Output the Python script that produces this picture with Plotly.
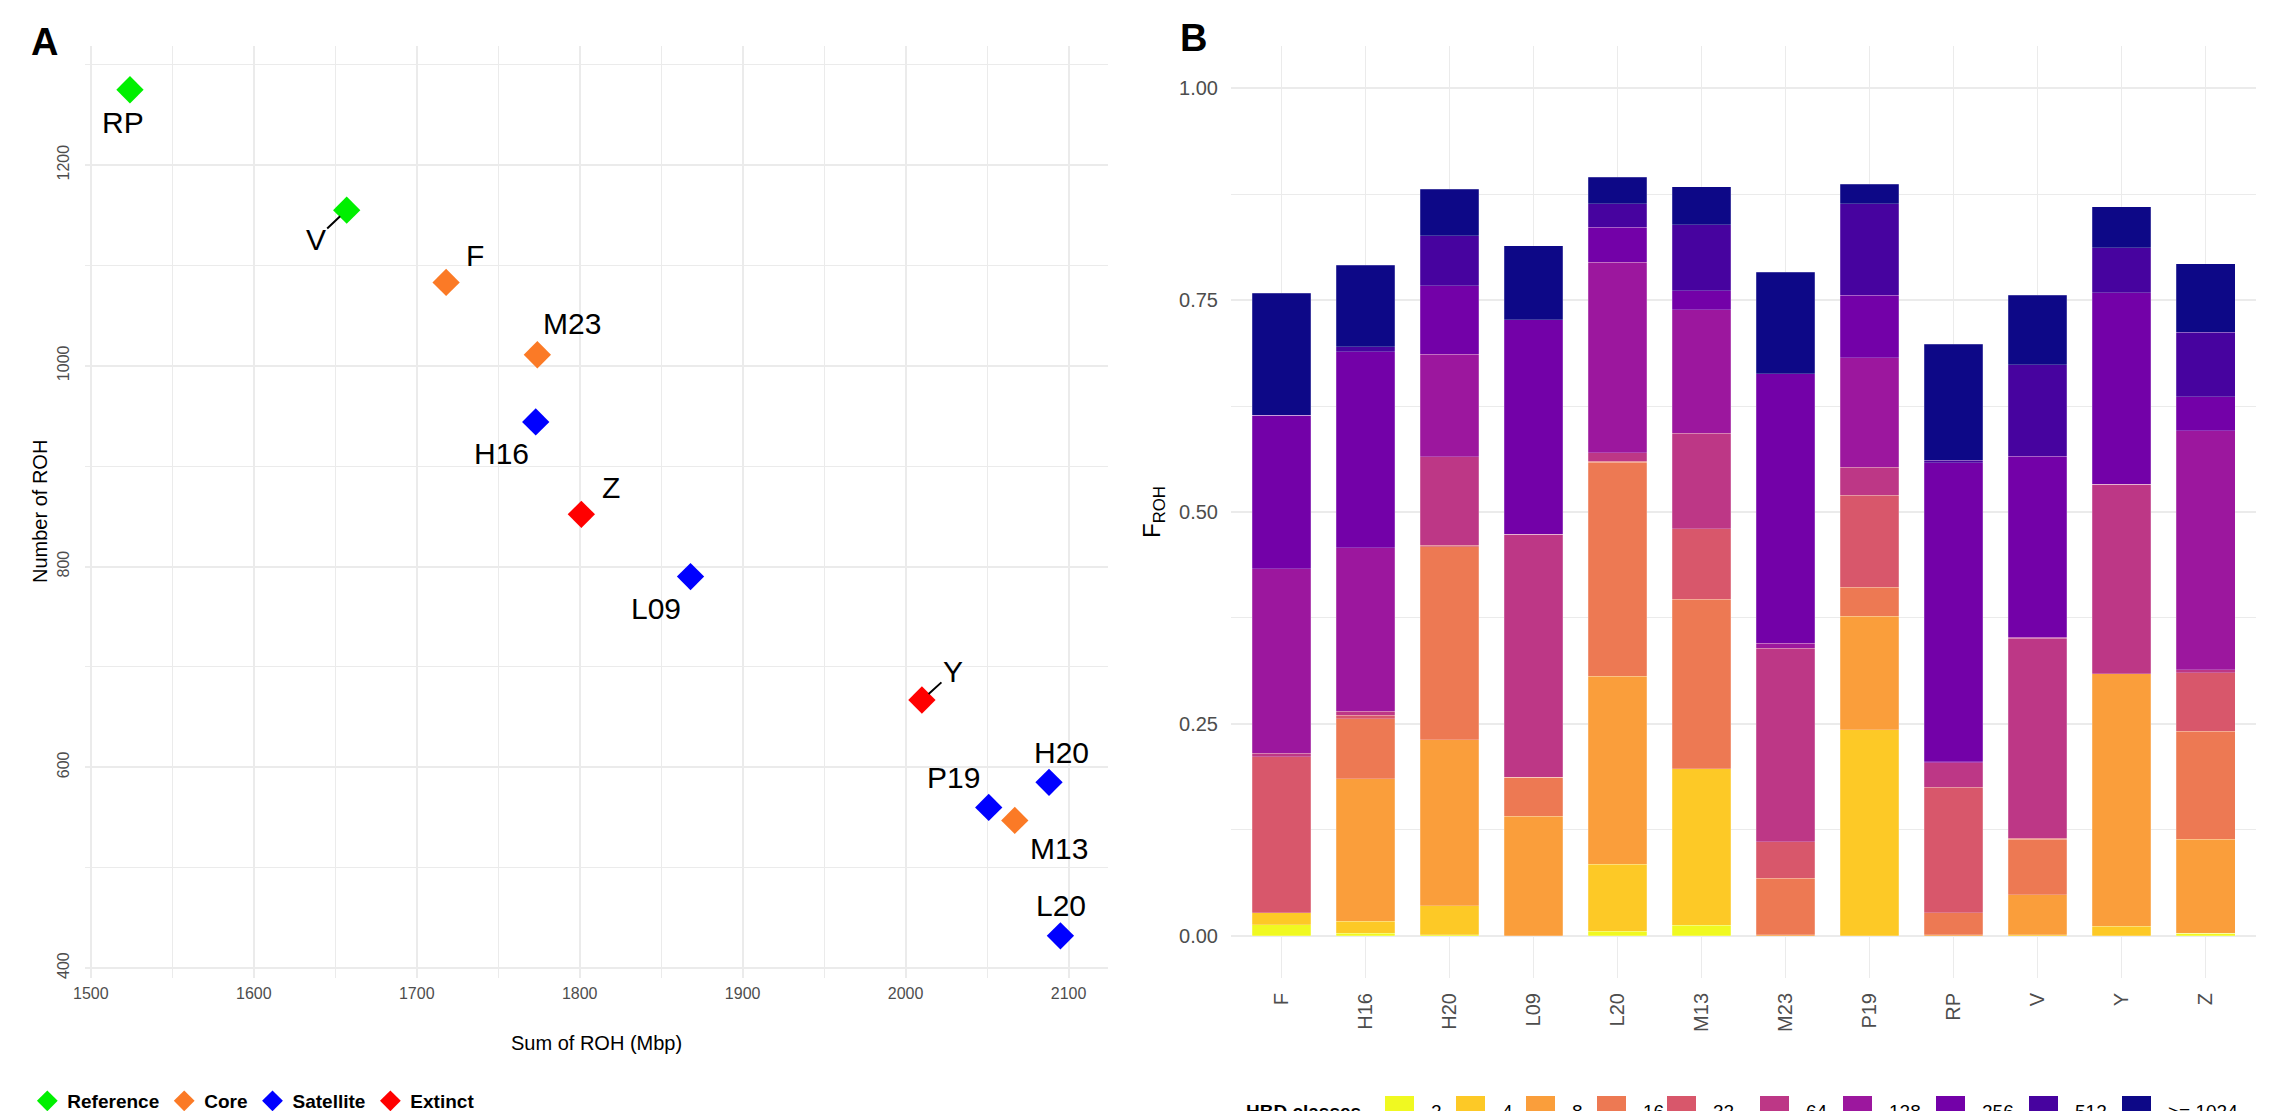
import plotly.graph_objects as go

# ---------------- Panel A data ----------------
ind_names = ["RP", "V", "F", "M23", "H16", "Z", "L09", "Y", "H20", "P19", "M13", "L20"]
sum_roh = [1524, 1657, 1718, 1774, 1773, 1801, 1868, 2010, 2088, 2051, 2067, 2095]
n_roh = [1275, 1155, 1083, 1011, 944, 852, 790, 667, 585, 560, 547, 432]
groups = ["Reference", "Reference", "Core", "Core", "Satellite", "Extinct", "Satellite",
          "Extinct", "Satellite", "Satellite", "Core", "Satellite"]
group_order = ["Reference", "Core", "Satellite", "Extinct"]
group_colors = {"Reference": "#00F000", "Core": "#FB7A26", "Satellite": "#0000FF", "Extinct": "#FF0000"}

# label offsets in pixels (dx right, dy down)
label_dx = [-7, -31, 29, 35, -34, 30, -35, 31, 12, -35, 44, 1]
label_dy = [33, 29, -27, -31, 32, -27, 32, -28, -30, -30, 28, -30]
with_segment = ["V", "Y"]

# ---------------- Panel B data ----------------
individuals = ["F", "H16", "H20", "L09", "L20", "M13", "M23", "P19", "RP", "V", "Y", "Z"]
hbd_classes = ["2", "4", "8", "16", "32", "64", "128", "256", "512", ">= 1024"]
hbd_2 = [0.013, 0.003, 0.001, 0, 0.005, 0.012, 0, 0, 0, 0, 0, 0.003]
hbd_4 = [0.014, 0.014, 0.034, 0, 0.079, 0.185, 0, 0.243, 0, 0.001, 0.011, 0]
hbd_8 = [0, 0.168, 0.196, 0.141, 0.222, 0, 0.001, 0.134, 0.001, 0.047, 0.298, 0.111]
hbd_16 = [0, 0.071, 0.228, 0.046, 0.253, 0.200, 0.067, 0.034, 0.026, 0.066, 0, 0.127]
hbd_32 = [0.184, 0.004, 0.002, 0, 0.001, 0.083, 0.043, 0.109, 0.148, 0.001, 0, 0.069]
hbd_64 = [0.004, 0.005, 0.104, 0.287, 0.010, 0.113, 0.228, 0.033, 0.029, 0.236, 0.224, 0.004]
hbd_128 = [0.218, 0.193, 0.121, 0, 0.225, 0.146, 0.006, 0.129, 0.001, 0.001, 0, 0.282]
hbd_256 = [0.181, 0.231, 0.081, 0.253, 0.041, 0.022, 0.318, 0.074, 0.353, 0.214, 0.226, 0.040]
hbd_512 = [0, 0.006, 0.059, 0, 0.028, 0.078, 0, 0.108, 0.003, 0.108, 0.053, 0.076]
hbd_1024 = [0.144, 0.096, 0.055, 0.087, 0.031, 0.045, 0.120, 0.023, 0.137, 0.082, 0.048, 0.081]
hbd_values = [hbd_2, hbd_4, hbd_8, hbd_16, hbd_32, hbd_64, hbd_128, hbd_256, hbd_512, hbd_1024]
hbd_colors = ["#F0F921", "#FDC926", "#FA9E3B", "#ED7953", "#D8576B",
              "#BD3786", "#9C179E", "#7301A8", "#47039F", "#0D0887"]

FONT = "Liberation Sans, Arial, sans-serif"
W, H = 2276, 1111
GRID = "#EBEBEB"

fig = go.Figure()

# scatter traces per group
for g in group_order:
    idx = [i for i, gg in enumerate(groups) if gg == g]
    fig.add_trace(go.Scatter(
        x=[sum_roh[i] for i in idx], y=[n_roh[i] for i in idx],
        mode="markers", name=g, legend="legend",
        marker=dict(symbol="diamond", size=21, color=group_colors[g], line=dict(width=0)),
        xaxis="x", yaxis="y"))

# labels
for i, nm in enumerate(ind_names):
    if nm in with_segment:
        fig.add_annotation(x=sum_roh[i], y=n_roh[i], xref="x", yref="y", text=nm,
                           showarrow=True, arrowhead=0, arrowwidth=2, arrowcolor="black",
                           ax=label_dx[i], ay=label_dy[i], standoff=9,
                           font=dict(family=FONT, size=30, color="black"))
    else:
        fig.add_annotation(x=sum_roh[i], y=n_roh[i], xref="x", yref="y", text=nm,
                           showarrow=False, xshift=label_dx[i], yshift=-label_dy[i],
                           xanchor="center", yanchor="middle",
                           font=dict(family=FONT, size=30, color="black"))

# stacked bars
for cls, vals, col in zip(hbd_classes, hbd_values, hbd_colors):
    fig.add_trace(go.Bar(
        x=individuals, y=vals, name=cls, showlegend=False,
        marker=dict(color=col, line=dict(color="rgba(255,255,255,0.35)", width=0.6)),
        xaxis="x2", yaxis="y2"))

# domains (paper fractions)
ax_l, ax_r = 85 / W, 1108 / W
bx_l, bx_r = 1231 / W, 2256 / W
y_b, y_t = 1 - 978 / H, 1 - 46 / H

tickfontA = dict(family=FONT, size=16, color="#4D4D4D")
tickfontB = dict(family=FONT, size=20, color="#4D4D4D")

fig.update_layout(
    width=W, height=H,
    margin=dict(l=0, r=0, t=0, b=0, autoexpand=False),
    paper_bgcolor="white", plot_bgcolor="white",
    barmode="stack", bargap=0.3,
    showlegend=True,
    xaxis=dict(domain=[ax_l, ax_r], range=[1496.4, 2124.2], dtick=100, tick0=1500,
               showgrid=True, gridcolor=GRID, gridwidth=2, zeroline=False, showline=False,
               ticks="", tickfont=tickfontA, ticklabelstandoff=4,
               minor=dict(dtick=50, tick0=1500, showgrid=True, gridcolor=GRID, gridwidth=1),
               anchor="y"),
    yaxis=dict(domain=[y_b, y_t], range=[390, 1318.6], dtick=200, tick0=400,
               showgrid=True, gridcolor=GRID, gridwidth=2, zeroline=False, showline=False,
               ticks="", tickfont=tickfontA, tickangle=-90, ticklabelstandoff=12,
               minor=dict(dtick=100, tick0=400, showgrid=True, gridcolor=GRID, gridwidth=1),
               anchor="x"),
    xaxis2=dict(domain=[bx_l, bx_r], range=[-0.6, 11.6], type="category",
                categoryorder="array", categoryarray=individuals,
                showgrid=True, gridcolor=GRID, gridwidth=1.3, zeroline=False, showline=False,
                ticks="", tickfont=tickfontB, tickangle=-90, ticklabelstandoff=10,
                anchor="y2"),
    yaxis2=dict(domain=[y_b, y_t], range=[-0.05, 1.05], dtick=0.25, tick0=0, tickformat=".2f",
                showgrid=True, gridcolor=GRID, gridwidth=2, zeroline=False, showline=False,
                ticks="", tickfont=tickfontB, ticklabelstandoff=12,
                minor=dict(dtick=0.125, tick0=0, showgrid=True, gridcolor=GRID, gridwidth=1),
                anchor="x2"),
    legend=dict(orientation="h", x=0.012, y=1 - 1101 / H, xanchor="left", yanchor="middle",
                font=dict(family=FONT, size=19, color="black", weight="bold"),
                itemsizing="trace", bgcolor="rgba(0,0,0,0)", traceorder="normal"),
)

# manual legend for HBD classes (bottom right, partly cut like the reference)
key_left = [1385, 1456, 1526, 1597, 1667, 1760, 1843, 1936, 2029, 2122]
key_size = 29
key_top = 1096
fig.add_annotation(text="<b>HBD classes</b>", x=1244 / W, y=1 - 1111 / H,
                   xref="paper", yref="paper", xanchor="left", yanchor="middle",
                   showarrow=False, font=dict(family=FONT, size=19, color="black"))
for cls, col, xl in zip(hbd_classes, hbd_colors, key_left):
    fig.add_shape(type="rect", xref="paper", yref="paper",
                  x0=xl / W, x1=(xl + key_size) / W,
                  y0=1 - key_top / H, y1=1 - (key_top + key_size) / H,
                  fillcolor=col, line=dict(width=0))
    fig.add_annotation(text=cls, x=(xl + key_size + 15) / W, y=1 - 1111 / H,
                       xref="paper", yref="paper", xanchor="left", yanchor="middle",
                       showarrow=False, font=dict(family=FONT, size=19, color="black"))

# axis titles and panel letters
fig.add_annotation(text="Sum of ROH (Mbp)", x=(ax_l + ax_r) / 2, y=1 - 1043 / H,
                   xref="paper", yref="paper", showarrow=False, xanchor="center", yanchor="middle",
                   font=dict(family=FONT, size=20, color="black"))
fig.add_annotation(text="Number of ROH", x=40 / W, y=1 - 512 / H, textangle=-90,
                   xref="paper", yref="paper", showarrow=False, xanchor="center", yanchor="middle",
                   font=dict(family=FONT, size=20, color="black"))
fig.add_annotation(text="F<sub>ROH</sub>", x=1154 / W, y=1 - 512 / H, textangle=-90,
                   xref="paper", yref="paper", showarrow=False, xanchor="center", yanchor="middle",
                   font=dict(family=FONT, size=24, color="black"))
fig.add_annotation(text="<b>A</b>", x=44 / W, y=1 - 42 / H, xref="paper", yref="paper",
                   showarrow=False, xanchor="center", yanchor="middle",
                   font=dict(family=FONT, size=38, color="black"))
fig.add_annotation(text="<b>B</b>", x=1193 / W, y=1 - 38 / H, xref="paper", yref="paper",
                   showarrow=False, xanchor="center", yanchor="middle",
                   font=dict(family=FONT, size=38, color="black"))

fig.write_html("out.html", config={"displayModeBar": False},
               post_script="document.body.style.margin='0';document.body.style.overflow='hidden';")
